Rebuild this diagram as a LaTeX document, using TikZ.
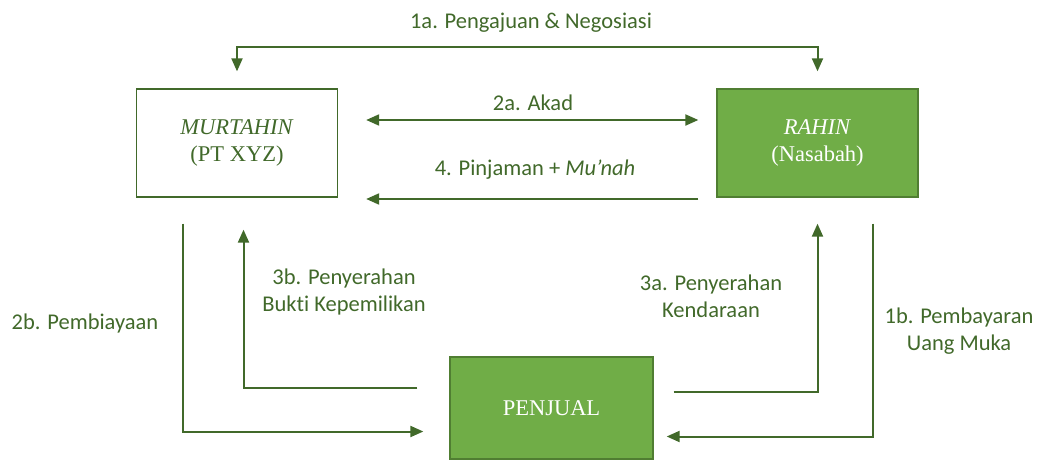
\documentclass[tikz,border=0pt]{standalone}
\usepackage{fontspec}
\setmainfont{Liberation Serif}
\newfontfamily\lab[Ligatures=NoCommon]{Carlito}
\usetikzlibrary{arrows.meta,calc}
\definecolor{dg}{HTML}{41692A}
\definecolor{fg}{HTML}{70AD47}
\definecolor{bg}{HTML}{507E32}
\begin{document}
\begin{tikzpicture}[x=1pt,y=-1pt,
  box/.style={draw=dg,line width=1.3pt,minimum width=201pt,minimum height=108pt,inner sep=0pt,font=\fontsize{22.5}{27}\selectfont,align=center},
  lbl/.style={text=dg,font=\lab\fontsize{22.5}{27}\selectfont,align=center,inner sep=0pt},
  arr/.style={draw=dg,line width=2pt,-{Triangle[length=13pt,width=11pt]}},
  dbl/.style={draw=dg,line width=2pt,{Triangle[length=13pt,width=11pt]}-{Triangle[length=13pt,width=11pt]}}]
\useasboundingbox (0,0) rectangle (1041,460);
\node[box,fill=white,text=dg] (m) at (237,143) {\textit{MURTAHIN}\\(PT XYZ)};
\node[box,fill=fg,draw=bg,text=white] (r) at (817.5,143) {\textit{RAHIN}\\(Nasabah)};
\node[box,fill=fg,draw=bg,text=white,minimum width=203pt,minimum height=102pt] (p) at (551.5,408) {PENJUAL};
% connectors
\draw[dbl] ($(m.north)+(0,-17)$) -- ++(0,-24) -| ($(r.north)+(0,-17)$);
\draw[dbl] ($(m.east)+(28,-23)$) -- ($(r.west)+(-18,-23)$);
\draw[arr] ($(r.west)+(-18,56)$) -- ($(m.east)+(28,56)$);
\draw[arr] ($(m.south west)+(47,26)$) |- ($(p.west)+(-26,23.5)$);
\draw[arr] ($(p.west)+(-32,-20.5)$) -| ($(m.south)+(6.5,32)$);
\draw[arr] ($(p.east)+(20,-16.5)$) -| ($(r.south)+(0,26)$);
\draw[arr] ($(r.south east)+(-46,26)$) |- ($(p.east)+(13,28.5)$);
% labels
\node[lbl] (l1a) at (531,23) {1a. Pengajuan \& Negosiasi};
\node[lbl] (l2a) at (533,103) {2a. Akad};
\node[lbl] (l4) at (535,170) {4. Pinjaman + \textit{Mu’nah}};
\node[lbl] (l2b) at (85,323) {2b. Pembiayaan};
\node[lbl] (l3b) at (344,291.5) {3b. Penyerahan\\Bukti Kepemilikan};
\node[lbl] (l3a) at (711,296) {3a. Penyerahan\\Kendaraan};
\node[lbl] (l1b) at (959,331) {1b. Pembayaran\\Uang Muka};
\end{tikzpicture}
\end{document}
